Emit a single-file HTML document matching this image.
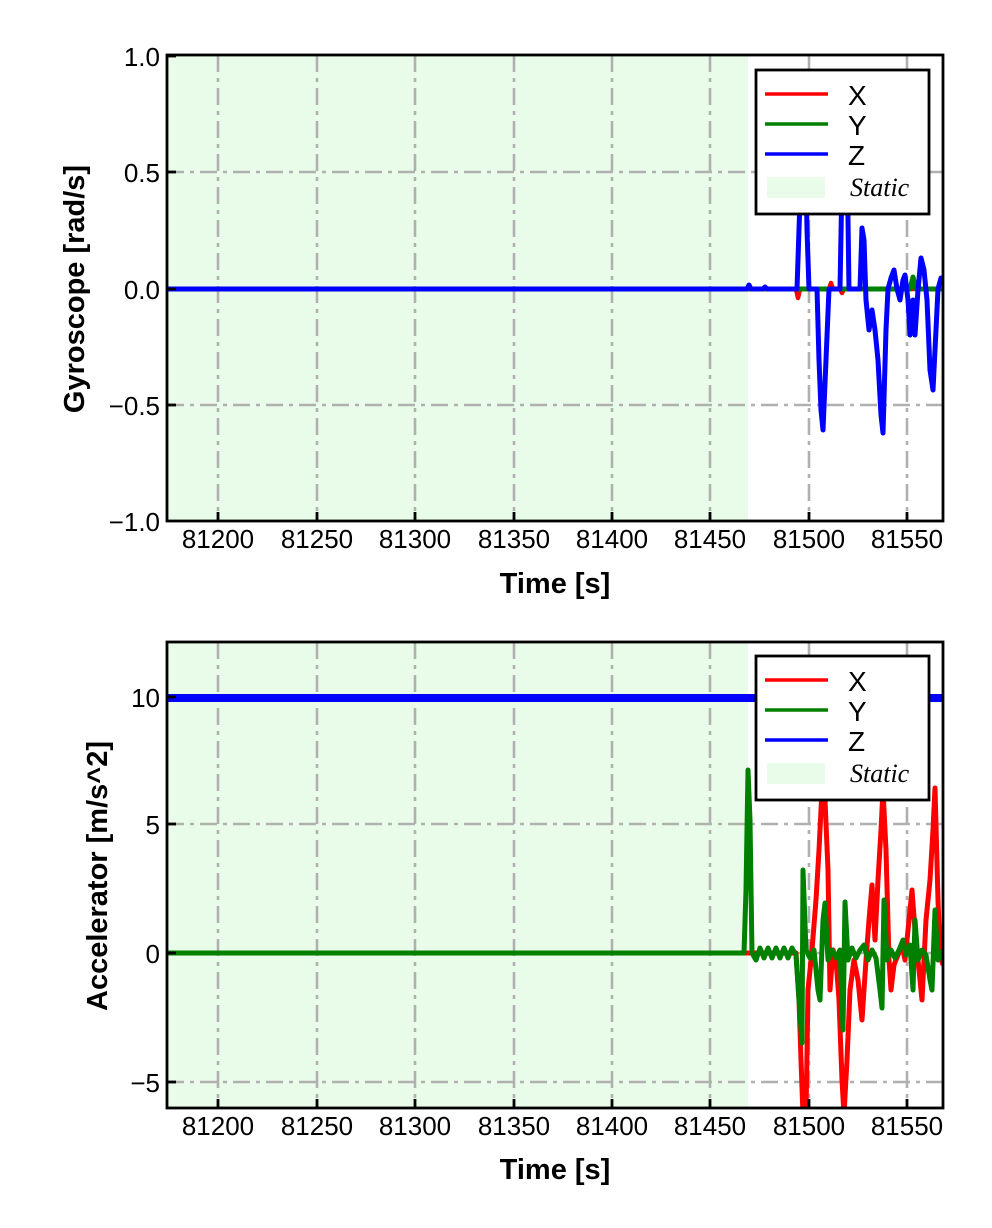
<!DOCTYPE html>
<html><head><meta charset="utf-8"><style>
html,body{margin:0;padding:0;background:#fff}
svg{display:block}
text{font-family:"Liberation Sans",sans-serif;fill:#000}
</style></head><body>
<svg width="992" height="1228" viewBox="0 0 992 1228" xmlns="http://www.w3.org/2000/svg">
<defs>
<clipPath id="c1"><rect x="167" y="55" width="776" height="466"/></clipPath>
<clipPath id="c2"><rect x="167" y="642" width="776" height="466"/></clipPath>
</defs>
<!-- TOP -->
<rect x="167" y="55" width="581" height="466" fill="#e9fce9"/>
<g stroke="#b0b0b0" stroke-width="2.6" stroke-dasharray="17,6,4,6" fill="none">
<line x1="218" y1="55" x2="218" y2="521"/><line x1="317" y1="55" x2="317" y2="521"/><line x1="415" y1="55" x2="415" y2="521"/><line x1="514" y1="55" x2="514" y2="521"/><line x1="612" y1="55" x2="612" y2="521"/><line x1="710" y1="55" x2="710" y2="521"/><line x1="809" y1="55" x2="809" y2="521"/><line x1="907" y1="55" x2="907" y2="521"/>
<line x1="167" y1="172" x2="943" y2="172"/><line x1="167" y1="289" x2="943" y2="289"/><line x1="167" y1="405" x2="943" y2="405"/>
</g>
<g clip-path="url(#c1)" fill="none" stroke-linejoin="round">
<polyline stroke="#ff0000" stroke-width="4.5" points="167,289 796,289 798,298 800,289 829,289 831,283 833,289 840,289 842,293 844,289 943,289"/>
<polyline stroke="#008000" stroke-width="5" points="167,289 910,289 913,277 916,289 943,289"/>
<polyline stroke="#0000ff" stroke-width="5" points="167,289 747,289 749,285 751,289 763,289 765,287 767,289 797,289 800,200 802,120 805,120 807,230 809,289 817,289 819,360 821,410 823,430 826,360 829,289 840,289 842,180 844,120 847,150 849,289 860,289 862,228 864,240 866,300 869,330 872,310 875,330 878,360 881,415 883,433 886,330 888,289 891,278 894,270 897,289 900,300 903,280 905,275 908,300 910,335 913,300 915,335 918,290 921,258 924,270 927,300 930,370 933,390 936,330 938,289 941,278 943,285"/>
</g>
<rect x="167" y="55" width="776" height="466" fill="none" stroke="#000" stroke-width="2.8"/>
<g stroke="#000" stroke-width="2.8">
<line x1="218" y1="521" x2="218" y2="512"/><line x1="317" y1="521" x2="317" y2="512"/><line x1="415" y1="521" x2="415" y2="512"/><line x1="514" y1="521" x2="514" y2="512"/><line x1="612" y1="521" x2="612" y2="512"/><line x1="710" y1="521" x2="710" y2="512"/><line x1="809" y1="521" x2="809" y2="512"/><line x1="907" y1="521" x2="907" y2="512"/>
<line x1="167" y1="56" x2="176" y2="56"/><line x1="167" y1="172" x2="176" y2="172"/><line x1="167" y1="289" x2="176" y2="289"/><line x1="167" y1="405" x2="176" y2="405"/>
</g>
<g font-size="26" text-anchor="middle">
<text x="218" y="548">81200</text><text x="317" y="548">81250</text><text x="415" y="548">81300</text><text x="514" y="548">81350</text><text x="612" y="548">81400</text><text x="710" y="548">81450</text><text x="809" y="548">81500</text><text x="907" y="548">81550</text>
</g>
<g font-size="26" text-anchor="end">
<text x="160" y="66">1.0</text><text x="160" y="182">0.5</text><text x="160" y="299">0.0</text><text x="160" y="415">−0.5</text><text x="160" y="531">−1.0</text>
</g>
<text x="555" y="593" font-size="29" font-weight="bold" text-anchor="middle">Time [s]</text>
<text transform="translate(84,289) rotate(-90)" font-size="29" font-weight="bold" text-anchor="middle">Gyroscope [rad/s]</text>
<rect x="756" y="70" width="173" height="144" fill="#fff" stroke="#000" stroke-width="2.8"/>
<line x1="765" y1="94" x2="828" y2="94" stroke="#ff0000" stroke-width="3.5"/>
<line x1="765" y1="124" x2="828" y2="124" stroke="#008000" stroke-width="3.5"/>
<line x1="765" y1="154" x2="828" y2="154" stroke="#0000ff" stroke-width="3.5"/>
<rect x="767" y="177" width="58" height="21" fill="#e9fce9"/>
<g font-size="28"><text x="848" y="105">X</text><text x="848" y="135">Y</text><text x="848" y="165">Z</text></g>
<text x="850" y="196" font-size="26" font-style="italic" style="font-family:'Liberation Serif',serif">Static</text>

<!-- BOTTOM -->
<rect x="167" y="642" width="581" height="466" fill="#e9fce9"/>
<g stroke="#b0b0b0" stroke-width="2.6" stroke-dasharray="17,6,4,6" fill="none">
<line x1="218" y1="642" x2="218" y2="1108"/><line x1="317" y1="642" x2="317" y2="1108"/><line x1="415" y1="642" x2="415" y2="1108"/><line x1="514" y1="642" x2="514" y2="1108"/><line x1="612" y1="642" x2="612" y2="1108"/><line x1="710" y1="642" x2="710" y2="1108"/><line x1="809" y1="642" x2="809" y2="1108"/><line x1="907" y1="642" x2="907" y2="1108"/>
<line x1="167" y1="697" x2="943" y2="697"/><line x1="167" y1="824" x2="943" y2="824"/><line x1="167" y1="953" x2="943" y2="953"/><line x1="167" y1="1082" x2="943" y2="1082"/>
</g>
<g clip-path="url(#c2)" fill="none" stroke-linejoin="round">
<line x1="167" y1="698" x2="943" y2="698" stroke="#0000ff" stroke-width="8"/>
<polyline stroke="#ff0000" stroke-width="5" points="167,953 796,953 799,1000 801,1060 803,1115 806,1115 808,990 812,950 816,900 819,850 822,790 825,800 828,870 830,990 833,950 836,960 839,1000 842,1080 844,1115 847,1060 850,990 854,960 858,980 862,1020 866,960 869,920 872,885 875,940 878,880 881,830 883,790 886,850 889,960 891,990 894,965 898,955 902,945 905,960 908,930 912,890 915,930 918,960 922,1000 926,920 930,880 933,830 935,788 938,900 940,955 943,965"/>
<polyline stroke="#008000" stroke-width="5" points="167,953 744,953 746,890 748,770 750,820 752,953 756,960 760,948 764,958 768,948 772,958 776,948 780,958 784,948 788,958 792,948 796,955 799,1000 802,1043 803,870 806,950 810,958 814,950 818,990 820,1000 823,920 825,903 828,960 832,950 836,958 840,950 843,1030 845,902 848,960 852,948 856,958 860,950 864,945 868,960 872,950 876,958 880,990 882,1008 884,900 887,960 891,950 895,958 899,950 903,940 906,955 910,945 913,990 915,920 918,960 922,950 926,955 930,980 932,990 935,910 938,960 943,950"/>
</g>
<rect x="167" y="642" width="776" height="466" fill="none" stroke="#000" stroke-width="2.8"/>
<g stroke="#000" stroke-width="2.8">
<line x1="218" y1="1108" x2="218" y2="1099"/><line x1="317" y1="1108" x2="317" y2="1099"/><line x1="415" y1="1108" x2="415" y2="1099"/><line x1="514" y1="1108" x2="514" y2="1099"/><line x1="612" y1="1108" x2="612" y2="1099"/><line x1="710" y1="1108" x2="710" y2="1099"/><line x1="809" y1="1108" x2="809" y2="1099"/><line x1="907" y1="1108" x2="907" y2="1099"/>
<line x1="167" y1="697" x2="176" y2="697"/><line x1="167" y1="824" x2="176" y2="824"/><line x1="167" y1="953" x2="176" y2="953"/><line x1="167" y1="1082" x2="176" y2="1082"/>
</g>
<g font-size="26" text-anchor="middle">
<text x="218" y="1135">81200</text><text x="317" y="1135">81250</text><text x="415" y="1135">81300</text><text x="514" y="1135">81350</text><text x="612" y="1135">81400</text><text x="710" y="1135">81450</text><text x="809" y="1135">81500</text><text x="907" y="1135">81550</text>
</g>
<g font-size="26" text-anchor="end">
<text x="160" y="707">10</text><text x="160" y="834">5</text><text x="160" y="963">0</text><text x="160" y="1092">−5</text>
</g>
<text x="555" y="1179" font-size="29" font-weight="bold" text-anchor="middle">Time [s]</text>
<text transform="translate(107,876) rotate(-90)" font-size="29" font-weight="bold" text-anchor="middle">Accelerator [m/s^2]</text>
<rect x="756" y="656" width="173" height="144" fill="#fff" stroke="#000" stroke-width="2.8"/>
<line x1="765" y1="680" x2="828" y2="680" stroke="#ff0000" stroke-width="3.5"/>
<line x1="765" y1="710" x2="828" y2="710" stroke="#008000" stroke-width="3.5"/>
<line x1="765" y1="740" x2="828" y2="740" stroke="#0000ff" stroke-width="3.5"/>
<rect x="767" y="763" width="58" height="21" fill="#e9fce9"/>
<g font-size="28"><text x="848" y="691">X</text><text x="848" y="721">Y</text><text x="848" y="751">Z</text></g>
<text x="850" y="782" font-size="26" font-style="italic" style="font-family:'Liberation Serif',serif">Static</text>
</svg>
</body></html>
